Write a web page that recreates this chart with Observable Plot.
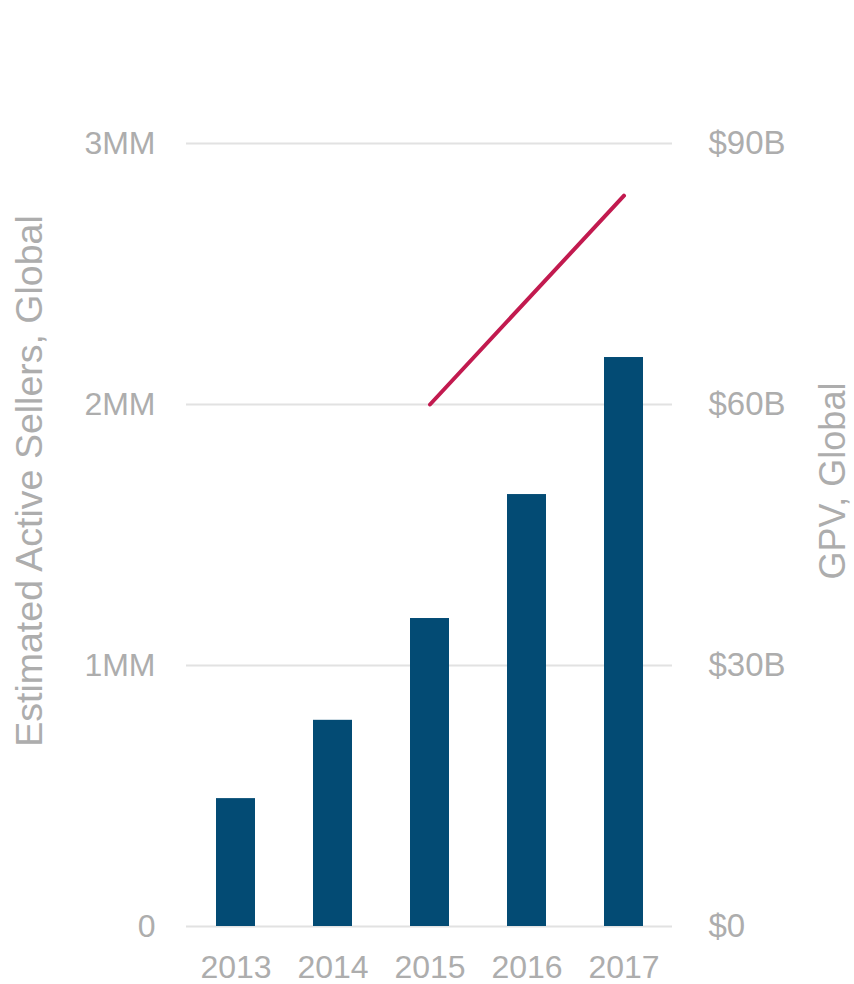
<!DOCTYPE html>
<html>
<head>
<meta charset="utf-8">
<script src="https://cdn.jsdelivr.net/npm/d3@7"></script>
<script src="https://cdn.jsdelivr.net/npm/@observablehq/plot@0.6"></script>
<style>
  html, body { margin: 0; padding: 0; background: #fff; }
  #chart svg { display: block; }
</style>
</head>
<body>
<div id="chart"></div>
<script>
// Data
const years = ["2013", "2014", "2015", "2016", "2017"];
const sellersMM = [0.49, 0.79, 1.18, 1.655, 2.18];          // Estimated Active Sellers, millions
const gpvYears = ["2015", "2016", "2017"];
const gpvB = [60, 72, 84];                                    // GPV, $ billions
const leftTicks = [0, 1, 2, 3];
const leftTickLabels = ["0", "1MM", "2MM", "3MM"];
const rightTicks = [0, 30, 60, 90];
const rightTickLabels = ["$0", "$30B", "$60B", "$90B"];
const leftTitle = "Estimated Active Sellers, Global";
const rightTitle = "GPV, Global";

const sellers = years.map((y, i) => ({year: y, value: sellersMM[i]}));
const gpv = gpvYears.map((y, i) => ({year: y, value: gpvB[i]}));
const gpvToLeft = v => v / 90 * 3; // map GPV onto the sellers scale (90B ↔ 3MM)

const gray = "#adadad";
const font = "'Liberation Sans', Arial, Helvetica, sans-serif";

const chart = Plot.plot({
  width: 854,
  height: 984,
  marginTop: 143,
  marginBottom: 58,
  marginLeft: 186,
  marginRight: 182,
  style: {fontFamily: font, background: "#fff"},
  x: {type: "band", domain: years, paddingInner: 0.6, paddingOuter: 0.28},
  y: {domain: [0, 3]},
  marks: [
    Plot.gridY(leftTicks, {stroke: "#e2e2e2", strokeOpacity: 1, strokeWidth: 2}),
    Plot.barY(sellers, {x: "year", y: "value", fill: "#034b74"}),
    Plot.lineY(gpv, {x: "year", y: d => gpvToLeft(d.value), stroke: "#c21a4f", strokeWidth: 4, strokeLinecap: "round"}),
    Plot.axisY({
      anchor: "left", ticks: leftTicks, tickSize: 0, tickPadding: 31,
      tickFormat: d => leftTickLabels[leftTicks.indexOf(d)],
      fontSize: 32, color: gray, label: null
    }),
    Plot.axisY({
      anchor: "right", ticks: rightTicks.map(gpvToLeft), tickSize: 0, tickPadding: 36,
      tickFormat: d => rightTickLabels[rightTicks.map(gpvToLeft).indexOf(d)],
      fontSize: 33, color: gray, label: null
    }),
    Plot.axisX({
      tickSize: 0, tickPadding: 29, fontSize: 32, color: gray, label: null
    }),
    Plot.text([leftTitle], {
      frameAnchor: "left", textAnchor: "middle", dx: -157, dy: -54, rotate: -90,
      fontSize: 37.5, fill: gray, text: d => d
    }),
    Plot.text([rightTitle], {
      frameAnchor: "right", textAnchor: "middle", dx: 161, dy: -54, rotate: -90,
      fontSize: 36, fill: gray, text: d => d
    })
  ]
});
document.getElementById("chart").appendChild(chart);
</script>
</body>
</html>
